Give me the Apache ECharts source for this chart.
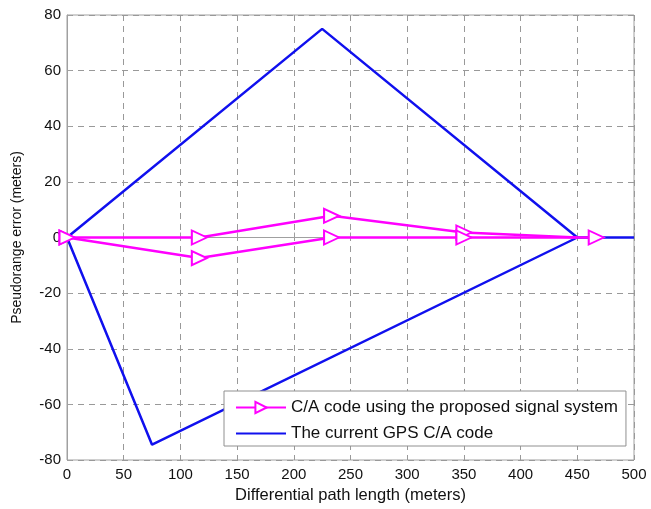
<!DOCTYPE html>
<html><head><meta charset="utf-8">
<script src="https://cdn.jsdelivr.net/npm/echarts@6/dist/echarts.min.js"></script>
<style>html,body{margin:0;padding:0;background:#fff}#c{width:651px;height:509px}</style>
</head><body><div id="c"></div>
<script>
const xTicks = [0,50,100,150,200,250,300,350,400,450,500];
const yTicks = [-80,-60,-40,-20,0,20,40,60,80];
const seriesNames = ['C/A code using the proposed signal system','The current GPS C/A code'];
// proposed signal system (magenta), two branches
const propUpper = [[0,0],[116.7,0],[233.3,7.8],[350,1.8],[450,0],[466.7,0]];
const propLower = [[0,0],[116.7,-7.4],[233.3,0],[350,0],[450,0]];
const noMarkerX = [450];
// current GPS C/A code (blue), two branches
const gpsUpper = [[0,0],[225,75],[450,0],[500,0]];
const gpsLower = [[0,0],[75,-74.5],[450,0]];

const FONT = 'Liberation Sans, Arial, sans-serif';
const mk = arr => arr.map(p => noMarkerX.includes(p[0]) ? {value:p, symbol:'none'} : {value:p});
const blueStyle = {color:'#1010ee', width:2.5};
const magStyle = {color:'#ff00ff', width:2.5};
const chart = echarts.init(document.getElementById('c'), null, {renderer:'canvas'});
const mag = (d) => ({name:seriesNames[0], type:'line', data:mk(d), symbol:'emptyTriangle', symbolSize:[14,15], symbolRotate:-90,
  itemStyle:{color:'#ff00ff', borderWidth:2}, lineStyle:magStyle, animation:false, z:3});
const blue = (d) => ({name:seriesNames[1], type:'line', data:d, symbol:'none', lineStyle:blueStyle, itemStyle:{color:'#1010ee'}, animation:false, z:2});
chart.setOption({
  animation:false,
  grid:{left:67, right:17, top:15, bottom:49, outerBoundsMode:'none', containLabel:false,
    show:true, borderColor:'#a0a0a0', borderWidth:1, backgroundColor:'#fff'},
  xAxis:{type:'value', min:0, max:500, interval:50,
    name:'Differential path length (meters)', nameLocation:'middle', nameGap:25,
    nameTextStyle:{fontFamily:FONT, fontSize:16.5, color:'#111'},
    axisLine:{show:true, lineStyle:{color:'#a0a0a0'}}, axisTick:{inside:true, length:5, lineStyle:{color:'#a0a0a0'}},
    axisLabel:{fontFamily:FONT, fontSize:15, color:'#111', margin:7, formatter:v=>xTicks.includes(v)?String(v):''},
    splitLine:{show:true, lineStyle:{type:[6,5], color:'#999', width:1}}},
  yAxis:{type:'value', min:-80, max:80, interval:20,
    name:'Pseudorange error (meters)', nameLocation:'middle', nameGap:43,
    nameTextStyle:{fontFamily:FONT, fontSize:14, color:'#111'},
    axisLine:{show:true, lineStyle:{color:'#a0a0a0'}}, axisTick:{inside:true, length:5, lineStyle:{color:'#a0a0a0'}},
    axisLabel:{fontFamily:FONT, fontSize:15, color:'#111', margin:6, formatter:v=>yTicks.includes(v)?String(v):''},
    splitLine:{show:true, lineStyle:{type:[6,5], color:'#999', width:1}}},
  legend:{data:[{name:seriesNames[0]},{name:seriesNames[1], itemStyle:{opacity:0}}],
    orient:'vertical', left:224, top:391, itemWidth:50, itemHeight:14, itemGap:9,
    padding:[8,8,4,11], borderColor:'#909090', borderWidth:1, backgroundColor:'#fff',
    textStyle:{fontFamily:FONT, fontSize:17, lineHeight:17, color:'#111'}},
  series:[blue(gpsUpper), blue(gpsLower), mag(propUpper), mag(propLower)]
});
</script></body></html>
